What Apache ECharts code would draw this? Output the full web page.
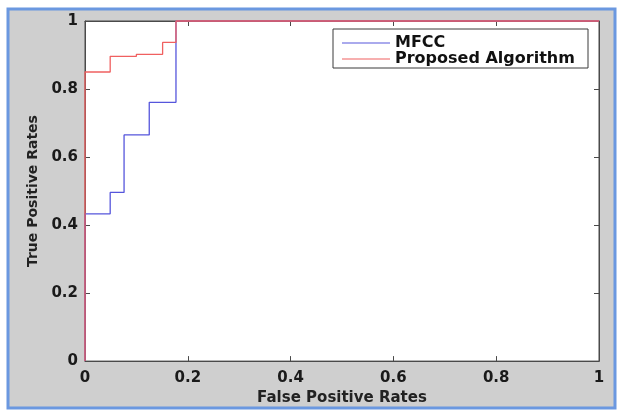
<!DOCTYPE html>
<html>
<head>
<meta charset="utf-8">
<script src="https://cdn.jsdelivr.net/npm/echarts@6/dist/echarts.min.js"></script>
<style>
html,body{margin:0;padding:0;background:#fff;}
#chart{width:620px;height:411px;}
</style>
</head>
<body>
<div id="chart"></div>
<script>
// ---- data ----
var mfccFpr = [0, 0, 0.049, 0.076, 0.125, 0.177, 1];
var mfccTpr = [0, 0.433, 0.496, 0.665, 0.761, 1, 1];
var propFpr = [0, 0, 0.049, 0.100, 0.151, 0.177, 1];
var propTpr = [0, 0.850, 0.896, 0.902, 0.937, 1, 1];
var seriesNames = ['MFCC', 'Proposed Algorithm'];
var xAxisTitle = 'False Positive Rates';
var yAxisTitle = 'True Positive Rates';
var tickValues = [0, 0.2, 0.4, 0.6, 0.8, 1];

function zip(xs, ys) { return xs.map(function (x, i) { return [x, ys[i]]; }); }
function fmt(v) { return tickValues.indexOf(Math.round(v * 10) / 10) >= 0 ? String(Math.round(v * 10) / 10) : ''; }

var chart = echarts.init(document.getElementById('chart'), null, { renderer: 'canvas' });
var FONT = 'DejaVu Sans';
var axisCol = '#4a4a4a';

var baseAxis = {
  type: 'value', min: 0, max: 1, interval: 0.2,
  splitLine: { show: false },
  axisLine: { show: true, onZero: false, lineStyle: { color: axisCol, width: 1 } },
  axisTick: { show: true, inside: true, length: 5, lineStyle: { color: axisCol } }
};

chart.setOption({
  animation: false,
  backgroundColor: 'transparent',
  graphic: [
    { type: 'rect', z: -10, shape: { x: 8, y: 9, width: 607, height: 399 },
      style: { fill: '#cfcfcf', stroke: '#6b98e0', lineWidth: 3 } },
    { type: 'rect', z: 100, shape: { x: 333, y: 29, width: 255, height: 39 },
      style: { fill: '#ffffff', stroke: '#3a3a3a', lineWidth: 1 } }
  ],
  grid: { left: 85, top: 21, width: 514, height: 342, show: true,
          backgroundColor: '#ffffff', borderColor: axisCol, borderWidth: 1 },
  xAxis: [
    Object.assign({}, baseAxis, {
      position: 'bottom',
      name: xAxisTitle, nameLocation: 'middle', nameGap: 28,
      nameTextStyle: { fontFamily: FONT, fontWeight: 'bold', fontSize: 15, color: '#222' },
      axisLabel: { fontFamily: FONT, fontWeight: 'bold', fontSize: 15, color: '#1a1a1a', margin: 10, formatter: fmt }
    }),
    Object.assign({}, baseAxis, { position: 'top', axisLabel: { show: false } })
  ],
  yAxis: [
    Object.assign({}, baseAxis, {
      position: 'left',
      name: yAxisTitle, nameLocation: 'middle', nameGap: 43,
      nameTextStyle: { fontFamily: FONT, fontWeight: 'bold', fontSize: 14, color: '#222' },
      axisLabel: { fontFamily: FONT, fontWeight: 'bold', fontSize: 15, color: '#1a1a1a', margin: 7, formatter: fmt }
    }),
    Object.assign({}, baseAxis, { position: 'right', axisLabel: { show: false } })
  ],
  legend: {
    show: true, z: 110, orient: 'vertical', left: 342, top: 35,
    itemWidth: 48, itemHeight: 14, itemGap: 0, padding: 0,
    icon: 'path://M0,7 L48,7 L48,8 L0,8 Z',
    textStyle: { fontFamily: FONT, fontWeight: 'bold', fontSize: 16, color: '#111', lineHeight: 14, padding: [0, 0, 0, 0] },
    data: seriesNames
  },
  series: [
    { name: seriesNames[0], type: 'line', step: 'end', showSymbol: false, symbol: 'none',
      data: zip(mfccFpr, mfccTpr), clip: false,
      itemStyle: { color: '#5656dc' }, lineStyle: { color: '#5656dc', width: 1.3 } },
    { name: seriesNames[1], type: 'line', step: 'end', showSymbol: false, symbol: 'none',
      data: zip(propFpr, propTpr), clip: false,
      itemStyle: { color: '#f06060' }, lineStyle: { color: '#f06060', width: 1.3 } }
  ]
});
</script>
</body>
</html>
